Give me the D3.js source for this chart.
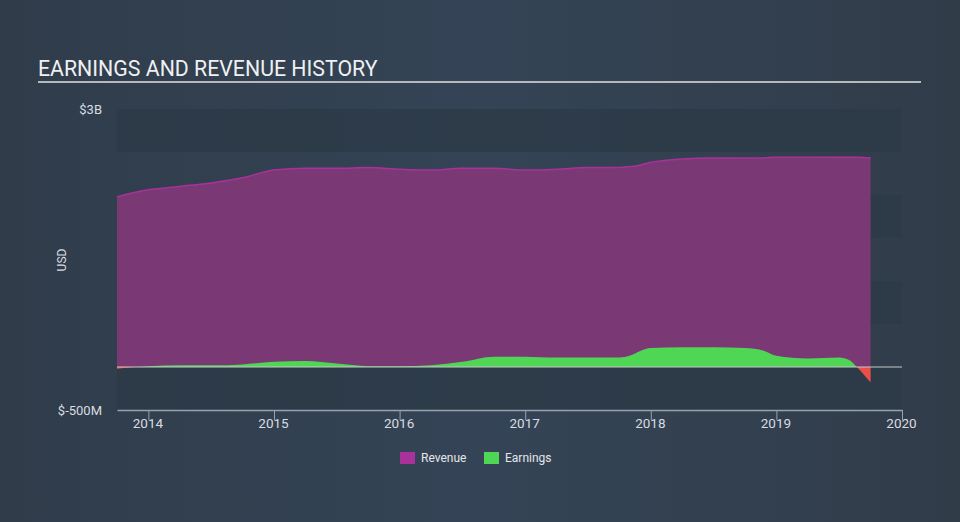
<!DOCTYPE html>
<html><head><meta charset="utf-8">
<script src="https://cdn.jsdelivr.net/npm/d3@7"></script>
<style>
html,body{margin:0;padding:0;}
body{width:960px;height:522px;overflow:hidden;background:linear-gradient(90deg,#303c4a 0%,#344456 50%,#313c49 100%);font-family:Roboto,"Open Sans",sans-serif;}
</style></head><body>
<svg id="c" width="960" height="522"></svg>
<script>
const dates = [2013.75,2014.0,2014.25,2014.5,2014.75,2015.0,2015.25,2015.5,2015.75,2016.0,2016.25,2016.5,2016.75,2017.0,2017.25,2017.5,2017.75,2017.83,2017.92,2018.0,2018.25,2018.5,2018.75,2018.9,2019.0,2019.25,2019.5,2019.58,2019.64,2019.75];
const revenue = [1.98,2.06,2.10,2.14,2.20,2.29,2.31,2.31,2.32,2.30,2.29,2.31,2.31,2.29,2.30,2.32,2.32,2.33,2.35,2.38,2.42,2.43,2.43,2.43,2.44,2.44,2.44,2.44,2.44,2.43];
const earnings = [-0.02,0.01,0.02,0.02,0.03,0.06,0.07,0.04,0.01,0.01,0.02,0.06,0.12,0.12,0.11,0.11,0.11,0.13,0.19,0.22,0.23,0.23,0.22,0.19,0.13,0.10,0.11,0.08,0.0,-0.18];
const yTicks = [3, -0.5];
const yTickLabels = ["$3B", "$-500M"];
const xTicks = [2014,2015,2016,2017,2018,2019,2020];
const bands = [3,2.5,2,1.5,1,0.5,0,-0.5];

const svg = d3.select("#c");
const L=117, R=902, T=109, B=410;
const x = d3.scaleLinear().domain([2013.75,2020]).range([L,R]);
const y = d3.scaleLinear().domain([-0.5,3]).range([B,T]);

// title
svg.append("text").attr("x",38).attr("y",76).attr("fill","#eef0f2").attr("font-size",21.3).text("EARNINGS AND REVENUE HISTORY");
svg.append("line").attr("x1",38).attr("x2",921).attr("y1",82).attr("y2",82).attr("stroke","#b5b9be").attr("stroke-width",2);

// bands
for(let i=0;i<bands.length-1;i++){
  if(i%2===0){
    svg.append("rect").attr("x",L).attr("width",R-L).attr("y",y(bands[i])).attr("height",y(bands[i+1])-y(bands[i])).attr("fill","#2c3947").attr("opacity",0.75);
  }
}

const data = dates.map((d,i)=>({d, r:revenue[i], e:earnings[i]}));
const curve = d3.curveMonotoneX;

svg.append("path").datum(data)
  .attr("d", d3.area().x(p=>x(p.d)).y0(y(0)).y1(p=>y(p.r)).curve(curve))
  .attr("fill","#7a3874");
svg.append("path").datum(data)
  .attr("d", d3.line().x(p=>x(p.d)).y(p=>y(p.r)).curve(curve))
  .attr("fill","none").attr("stroke","#a8329a").attr("stroke-width",1.5);

const defs = svg.append("defs");
defs.append("clipPath").attr("id","pos").append("rect").attr("x",0).attr("y",0).attr("width",960).attr("height",y(0));
defs.append("clipPath").attr("id","neg").append("rect").attr("x",0).attr("y",y(0)).attr("width",960).attr("height",522);
const eArea = d3.area().x(p=>x(p.d)).y0(y(0)).y1(p=>y(p.e)).curve(curve);
svg.append("path").datum(data).attr("d",eArea).attr("fill","#4fd655").attr("clip-path","url(#pos)");
svg.append("path").datum(data).attr("d",eArea).attr("fill","#ea5048").attr("clip-path","url(#neg)");

// zero line
svg.append("line").attr("x1",L).attr("x2",R).attr("y1",y(0)).attr("y2",y(0)).attr("stroke","#c8c8c8").attr("stroke-width",1);

// x axis
const xAxis = svg.append("g").attr("transform",`translate(0,${B})`)
  .call(d3.axisBottom(x).tickValues(xTicks).tickFormat(d3.format("d")).tickSize(10).tickSizeOuter(0));
xAxis.select(".domain").attr("stroke","#98a2ad").attr("stroke-width",1.5);
xAxis.selectAll(".tick line").attr("stroke","#98a2ad");
xAxis.selectAll(".tick text").attr("fill","#d8dce0").attr("font-size",13.5).attr("font-family","Roboto,sans-serif").attr("y",8).attr("dy","0.71em").attr("dx",-1);

// y labels
yTicks.forEach((v,i)=>{
  svg.append("text").attr("x",102).attr("y",y(v)).attr("dy","0.35em").attr("text-anchor","end")
    .attr("fill","#d8dce0").attr("font-size",13).text(yTickLabels[i]);
});
svg.append("text").attr("transform","translate(66,260) rotate(-90)").attr("text-anchor","middle")
  .attr("fill","#d8dce0").attr("font-size",12).text("USD");

// legend
const legend = [{n:"Revenue",c:"#a8329a",x:400},{n:"Earnings",c:"#4fd655",x:484}];
legend.forEach(l=>{
  svg.append("rect").attr("x",l.x).attr("y",452).attr("width",15).attr("height",12).attr("fill",l.c);
  svg.append("text").attr("x",l.x+21).attr("y",458).attr("dy","0.35em").attr("fill","#e4e6e9").attr("font-size",12).text(l.n);
});
</script>
</body></html>
